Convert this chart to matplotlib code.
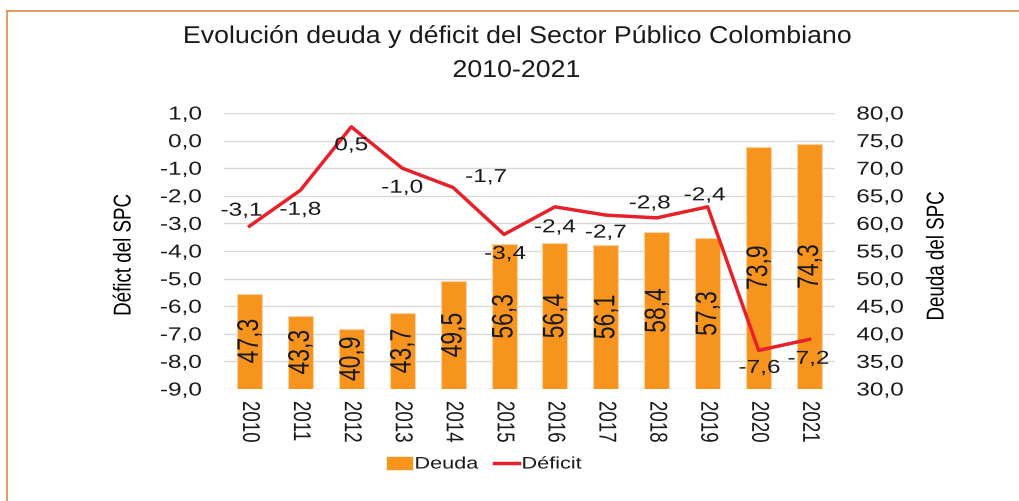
import numpy as np
import matplotlib.pyplot as plt
from matplotlib.patheffects import AbstractPathEffect
from matplotlib.transforms import Affine2D
from matplotlib.lines import Line2D

plt.rcParams['font.family'] = ['Liberation Sans', 'DejaVu Sans']
plt.rcParams['text.color'] = '#1a1a1a'
plt.rcParams['xtick.color'] = '#1a1a1a'
plt.rcParams['ytick.color'] = '#1a1a1a'

years = ['2010', '2011', '2012', '2013', '2014', '2015',
         '2016', '2017', '2018', '2019', '2020', '2021']
deuda = [47.3, 43.3, 40.9, 43.7, 49.5, 56.3, 56.4, 56.1, 58.4, 57.3, 73.9, 74.3]
deficit = [-3.1, -1.8, 0.5, -1.0, -1.7, -3.4, -2.4, -2.7, -2.8, -2.4, -7.6, -7.2]

deficit_ticks = [-9, -8, -7, -6, -5, -4, -3, -2, -1, 0, 1]
deuda_ticks = [30, 35, 40, 45, 50, 55, 60, 65, 70, 75, 80]

# where each deficit label sits relative to its point (pixels)
label_offsets = [(-8, 15), (0, -20), (0, -19), (0, -20), (33, 10), (1, -20),
                 (0, -21), (0, -18), (-7, 14), (-3, 11), (1, -18), (-1, -20)]

ORANGE = '#F7941E'
RED = '#E8202A'
GRID = '#d9d9d9'
WIDE = 1.3  # the source image is stretched sideways


class Widen(AbstractPathEffect):
    """Draw text stretched horizontally around an anchor."""

    def __init__(self, sx=WIDE, anchor='center'):
        super().__init__()
        self.sx = sx
        self.anchor = anchor

    def draw_path(self, renderer, gc, tpath, affine, rgbFace=None):
        box = tpath.get_extents(affine)
        if self.anchor == 'left':
            x0 = box.x0
        elif self.anchor == 'right':
            x0 = box.x1
        else:
            x0 = (box.x0 + box.x1) / 2
        stretch = Affine2D().translate(-x0, 0).scale(self.sx, 1).translate(x0, 0)
        renderer.draw_path(gc, tpath, affine + stretch, rgbFace)


def fmt(v):
    return f'{v:.1f}'.replace('.', ',')


fig = plt.figure(figsize=(10.2, 5.02), dpi=100)
ax = fig.add_axes([224 / 1020, 1 - 390 / 502, 611 / 1020, 276 / 502])
ax2 = ax.twinx()

x = np.arange(len(years))

# bars (right axis), grid behind them
ax2.bar(x, deuda, width=0.49, color=ORANGE, edgecolor='#fbd3a0', linewidth=0.8)
ax2.set_ylim(30, 80)
ax2.set_yticks(deuda_ticks, labels=[fmt(t) for t in deuda_ticks])
ax2.yaxis.grid(True, color=GRID, linewidth=1)
ax2.set_axisbelow(True)
for xi, v in zip(x, deuda):
    ax2.text(xi, (30 + v) / 2, fmt(v), rotation=90, ha='center', va='center',
             fontsize=16.5, path_effects=[Widen()])

# deficit line (left axis) on top
ax.plot(x, deficit, color=RED, linewidth=2.5)
ax.set_ylim(-9, 1)
ax.set_xlim(-0.5, len(years) - 0.5)
ax.set_yticks(deficit_ticks, labels=[fmt(t) for t in deficit_ticks])
ax.set_xticks(x, labels=years, rotation=-90)
for xi, v, off in zip(x, deficit, label_offsets):
    ax.annotate(fmt(v), (xi, v), xytext=off, textcoords='offset pixels',
                ha='center', va='center', fontsize=13.5, path_effects=[Widen()])
ax.set_zorder(ax2.get_zorder() + 1)
ax.patch.set_visible(False)

for a in (ax, ax2):
    for s in a.spines.values():
        s.set_visible(False)
    a.tick_params(length=0, labelsize=13.5)
ax.tick_params(axis='y', pad=16)
ax.tick_params(axis='x', pad=8.6)
ax2.tick_params(axis='y', pad=15.5)

for lbl in ax.get_yticklabels():
    lbl.set_path_effects([Widen(anchor='right')])
for lbl in ax.get_xticklabels():
    lbl.set_path_effects([Widen()])
for lbl in ax2.get_yticklabels():
    lbl.set_path_effects([Widen(anchor='left')])

ax.set_ylabel('Défict del SPC', fontsize=13.5, va='center', path_effects=[Widen()])
ax.yaxis.set_label_coords(-0.1637, 0.4855)
ax2.set_ylabel('Deuda del SPC', fontsize=13.5, va='center', rotation=90,
               path_effects=[Widen()])
ax2.yaxis.set_label_coords(1.1669, 0.482)

# title
fig.text(0.5064, 1 - 38 / 502, 'Evolución deuda y déficit del Sector Público Colombiano',
         ha='center', va='center', fontsize=17.5, path_effects=[Widen(1.1)])
fig.text(0.5064, 1 - 72 / 502, '2010-2021',
         ha='center', va='center', fontsize=17.5, path_effects=[Widen(1.1)])

# legend
handles = [plt.Rectangle((0, 0), 1, 1, color=ORANGE),
           Line2D([0], [0], color=RED, linewidth=2.5)]
leg = fig.legend(handles, ['Deuda', 'Déficit'], loc='center', ncol=2,
                 bbox_to_anchor=(0.4682, 1 - 465 / 502), frameon=False,
                 fontsize=12, handlelength=1.5, handleheight=0.7,
                 handletextpad=0.18, columnspacing=1.78, borderaxespad=0)
for t in leg.get_texts():
    t.set_path_effects([Widen(anchor='left')])

# frame edge of the original picture
fig.add_artist(Line2D([7.5 / 1020, 7.5 / 1020], [0, 1 - 11.5 / 502],
                      color='#E08A4A', linewidth=1.2, transform=fig.transFigure))
fig.add_artist(Line2D([7.5 / 1020, 1], [1 - 11.5 / 502, 1 - 11.5 / 502],
                      color='#E08A4A', linewidth=1.2, transform=fig.transFigure))

fig.savefig('out.png', dpi=100)
